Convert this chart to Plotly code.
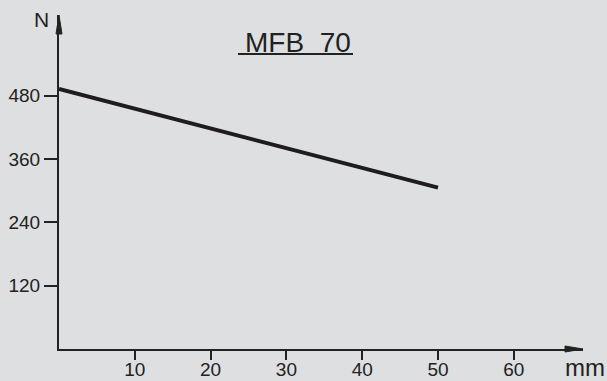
import plotly.graph_objects as go

# Force/stroke characteristic of the MFB 70
stroke_mm = [0, 50]
force_n = [493, 306]

x_ticks = [10, 20, 30, 40, 50, 60]
y_ticks = [120, 240, 360, 480]

title_text = "MFB\u00a0\u00a070"
x_unit = "mm"
y_unit = "N"

W, H = 607, 381
# plot area in pixels
L, R, T, B = 59, 583, 15, 349
PX_PER_MM = 7.58
PX_PER_N = 63.3 / 120

INK = "#222222"
BG = "#dedfe1"


def px(xp, yp):
    """pixel position -> paper coordinates"""
    return (xp - L) / (R - L), (B - yp) / (B - T)


fig = go.Figure()
fig.add_trace(go.Scatter(
    x=stroke_mm, y=force_n, mode="lines",
    line=dict(color="#1f1c1d", width=4),
    hoverinfo="skip", showlegend=False,
))

font = dict(family="Liberation Sans, Arial, sans-serif", color=INK)

fig.update_layout(
    width=W, height=H,
    margin=dict(l=L, r=W - R, t=T, b=H - B, pad=0, autoexpand=False),
    paper_bgcolor=BG, plot_bgcolor=BG,
    xaxis=dict(
        range=[0, (R - L) / PX_PER_MM], tickvals=x_ticks, automargin=False,
        ticks="outside", ticklen=9, tickwidth=1.5, tickcolor=INK,
        ticklabelstandoff=-7,
        showgrid=False, zeroline=False, showline=True, linecolor=INK, linewidth=2,
        tickfont=dict(size=19, **font), fixedrange=True,
    ),
    yaxis=dict(
        range=[0, (B - T) / PX_PER_N], tickvals=y_ticks, automargin=False,
        ticks="outside", ticklen=13, tickwidth=1.5, tickcolor=INK,
        showgrid=False, zeroline=False, showline=True, linecolor=INK, linewidth=2,
        tickfont=dict(size=19, **font), fixedrange=True,
    ),
)

# arrow heads at the ends of both axes
ax0, ay0 = px(L - 3, 34)
ax1, ay1 = px(L, T)
ax2, _ = px(L + 3, 34)
fig.add_shape(type="path", xref="paper", yref="paper",
              path=f"M {ax0},{ay0} L {ax1},{ay1} L {ax2},{ay0} Z",
              fillcolor=INK, line=dict(color=INK, width=1))
bx0, by0 = px(565, B - 3)
bx1, by1 = px(R, B)
_, by2 = px(565, B + 3)
fig.add_shape(type="path", xref="paper", yref="paper",
              path=f"M {bx0},{by0} L {bx1},{by1} L {bx0},{by2} Z",
              fillcolor=INK, line=dict(color=INK, width=1))

# title with underline
tx, ty = px(298, 42)
fig.add_annotation(xref="paper", yref="paper", x=tx, y=ty, text=title_text,
                   showarrow=False, font=dict(size=28, **font),
                   xanchor="center", yanchor="middle")
ux0, uy = px(238, 54)
ux1, _ = px(353, 54)
fig.add_shape(type="line", xref="paper", yref="paper",
              x0=ux0, x1=ux1, y0=uy, y1=uy, line=dict(color=INK, width=2))

# axis units
nx, ny = px(41, 20)
fig.add_annotation(xref="paper", yref="paper", x=nx, y=ny, text=y_unit,
                   showarrow=False, font=dict(size=21, **font),
                   xanchor="center", yanchor="middle")
mx, my = px(585, 367)
fig.add_annotation(xref="paper", yref="paper", x=mx, y=my, text=x_unit,
                   showarrow=False, font=dict(size=24, **font),
                   xanchor="center", yanchor="middle")

fig.write_html("out.html")
